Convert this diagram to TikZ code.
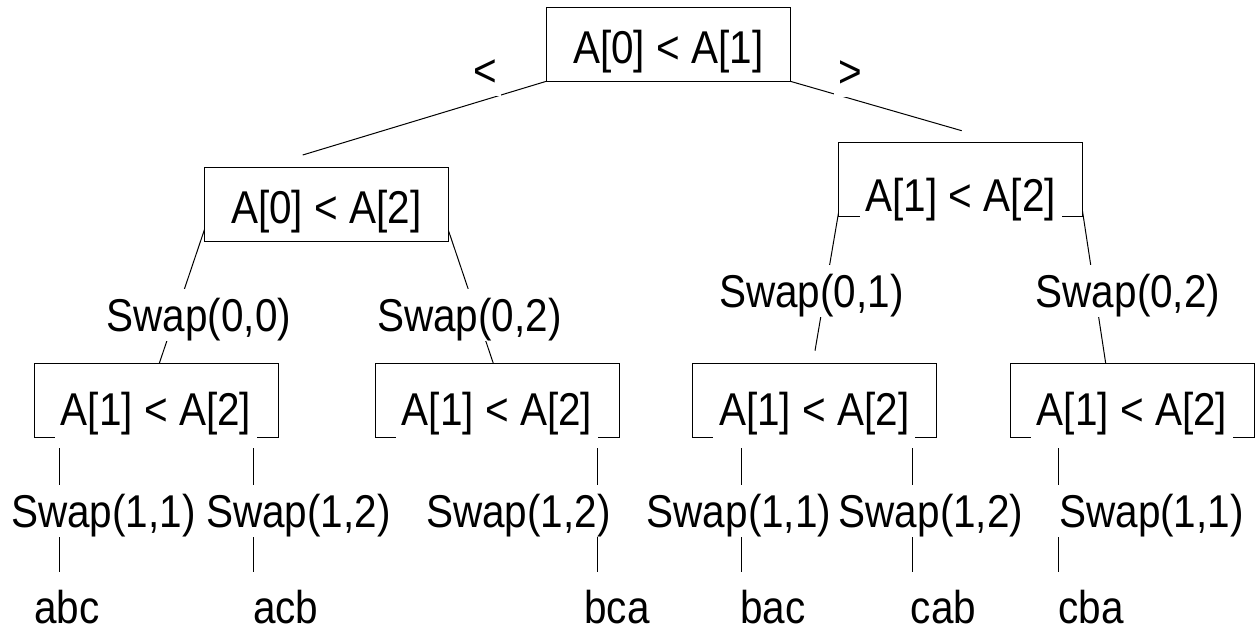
\documentclass[tikz,border=0pt]{standalone}
\usepackage{fontspec}
\setmainfont{Liberation Sans}[FakeStretch=0.88]
\pgfdeclarelayer{bg}
\pgfsetlayers{bg,main}
\begin{document}
\begin{tikzpicture}[x=1pt,y=-1pt,
  font=\fontsize{46}{52}\selectfont,
  box/.style={draw, fill=white, line width=1pt, minimum width=244pt, minimum height=74pt, inner sep=0pt, outer sep=0pt},
  cmp/.style={fill=white, anchor=base, inner xsep=6pt, inner ysep=0pt, text height=34pt, text depth=17pt},
  act/.style={fill=white, anchor=base, inner xsep=4pt, inner ysep=0pt, text height=42pt, text depth=10pt},
  leaf/.style={anchor=base, inner sep=0pt},
  edge/.style={line width=1pt}]
\useasboundingbox (0,0) rectangle (1258,627);

% decision boxes
\node[box] (root) at (668.3,44.3) {};
\node[box] (lc) at (326.3,204.2) {};
\node[box] (rc) at (960.8,179.6) {};
\node[box] (ll) at (156,400.2) {};
\node[box] (lr) at (497,400.2) {};
\node[box] (rl) at (814.3,400.2) {};
\node[box] (rr) at (1132,400.2) {};

% comparisons
\node[cmp] (root-t) at (668.3,63.3) {A[0] < A[1]};
\node[cmp] (lc-t) at (326.3,223.3) {A[0] < A[2]};
\node[cmp] (rc-t) at (960.8,211.7) {A[1] < A[2]};
\node[cmp] (ll-t) at (156,425) {A[1] < A[2]};
\node[cmp] (lr-t) at (497,425) {A[1] < A[2]};
\node[cmp] (rl-t) at (814.3,425) {A[1] < A[2]};
\node[cmp] (rr-t) at (1132,425) {A[1] < A[2]};

% branch labels
\node[act] (lt) at (485,86) {<};
\node[act] (gt) at (850,87) {>};
\node[act] (s00) at (199,331.3) {Swap(0,0)};
\node[act] (s02a) at (469.5,331.3) {Swap(0,2)};
\node[act] (s01) at (811.5,307) {Swap(0,1)};
\node[act] (s02b) at (1128,307) {Swap(0,2)};
\node[act] (s11a) at (103.3,527) {Swap(1,1)};
\node[act] (s12a) at (298.3,527) {Swap(1,2)};
\node[act] (s12b) at (518.5,527) {Swap(1,2)};
\node[act] (s11b) at (739,527) {Swap(1,1)};
\node[act] (s12c) at (931,527) {Swap(1,2)};
\node[act] (s11c) at (1151.5,527) {Swap(1,1)};

% results
\node[leaf] (abc) at (66.7,623) {abc};
\node[leaf] (acb) at (285.8,623) {acb};
\node[leaf] (bca) at (617,623) {bca};
\node[leaf] (bac) at (773,623) {bac};
\node[leaf] (cab) at (943.5,623) {cab};
\node[leaf] (cba) at (1091,623) {cba};

% connector ends
\coordinate (root-l) at (302.7,155);
\coordinate (root-r) at (961.7,130.7);
\coordinate (lc-a) at (207.7,220);
\coordinate (ll-top) at (159.3,363.3);
\coordinate (lc-b) at (444.9,220);
\coordinate (lr-top) at (493.3,363.3);
\coordinate (rc-a) at (840.7,200);
\coordinate (rl-top) at (815,350.7);
\coordinate (rc-b) at (1080.8,200);
\coordinate (rr-top) at (1105.7,363.3);

\begin{pgfonlayer}{bg}
  \draw[edge] (root.south west) -- (root-l);
  \draw[edge] (root.south east) -- (root-r);
  \draw[edge] (lc-a) -- (ll-top);
  \draw[edge] (lc-b) -- (lr-top);
  \draw[edge] (rc-a) -- (rl-top);
  \draw[edge] (rc-b) -- (rr-top);
  \foreach \x/\n in {59.3/ll1, 253/ll2, 597/lr2, 741/rl1, 912/rl2, 1058/rr1}{
    \draw[edge] (\x,448.3) coordinate (\n-s) -- (\x,571.7) coordinate (\n-e);
  }
\end{pgfonlayer}
\end{tikzpicture}
\end{document}
